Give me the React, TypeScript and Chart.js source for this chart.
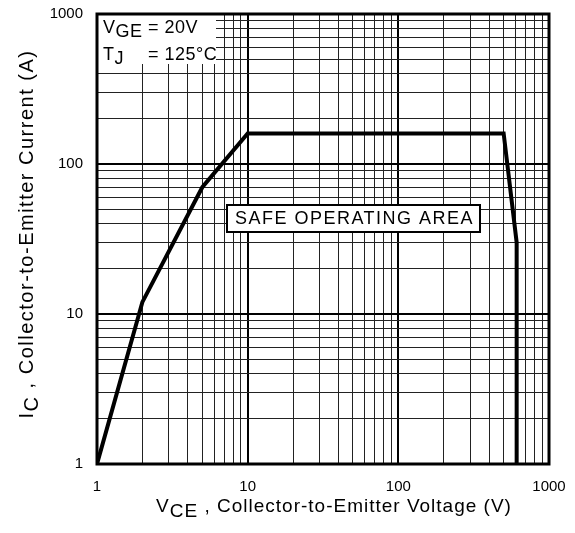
import React, { useEffect, useRef } from "react";
import { Chart, registerables } from "chart.js";

Chart.register(...registerables);

// Safe operating area boundary (V_CE in volts, I_C in amps)
const vce = [1, 2, 5, 10, 500, 610, 610];
const ic = [1, 12, 70, 160, 160, 30, 1];

// Log grid ticks (major decades + minor lines)
const xTicks = [1, 2, 3, 4, 5, 6, 7, 8, 9, 10, 20, 30, 40, 50, 60, 70, 80, 90, 100, 200, 300, 400, 500, 600, 700, 800, 900, 1000];
const yTicks = [1, 2, 3, 4, 5, 6, 7, 8, 9, 10, 20, 30, 40, 50, 60, 70, 80, 90, 100, 200, 300, 400, 500, 600, 700, 800, 900, 1000];
const decadeLabels = [1, 10, 100, 1000];

const FONT = "'Liberation Sans', Arial, Helvetica, sans-serif";

type Part = { t: string; sub?: boolean };

function partsWidth(ctx: CanvasRenderingContext2D, parts: Part[], font: string) {
  ctx.font = font;
  let w = 0;
  for (const p of parts) w += ctx.measureText(p.t).width;
  return w;
}

function drawParts(ctx: CanvasRenderingContext2D, parts: Part[], x: number, y: number, font: string, drop: number) {
  ctx.font = font;
  let cx = x;
  for (const p of parts) {
    ctx.fillText(p.t, cx, y + (p.sub ? drop : 0));
    cx += ctx.measureText(p.t).width;
  }
  return cx;
}

const annotations = {
  id: "annotations",
  afterDatasetsDraw(chart: any) {
    const ctx: CanvasRenderingContext2D = chart.ctx;
    const area = chart.chartArea;
    ctx.save();
    ctx.fillStyle = "#000";
    ctx.textAlign = "left";
    ctx.textBaseline = "alphabetic";
    (ctx as any).letterSpacing = "0.5px";

    // Condition box (top-left)
    ctx.fillStyle = "#fff";
    ctx.fillRect(area.left, area.top, 119, 50);
    ctx.fillStyle = "#000";
    const f1 = `18px ${FONT}`;
    const eqX = drawParts(ctx, [{ t: "V" }, { t: "GE", sub: true }, { t: " " }], area.left + 6, 33, f1, 4);
    drawParts(ctx, [{ t: "= 20V" }], eqX, 33, f1, 4);
    drawParts(ctx, [{ t: "T" }, { t: "J", sub: true }], area.left + 6, 60, f1, 4);
    drawParts(ctx, [{ t: "= 125°C" }], eqX, 60, f1, 4);

    // Safe operating area label box
    const bx = 227, by = 205, bw = 253, bh = 27;
    ctx.fillStyle = "#fff";
    ctx.fillRect(bx, by, bw, bh);
    ctx.lineWidth = 2;
    ctx.strokeStyle = "#000";
    ctx.strokeRect(bx, by, bw, bh);
    ctx.fillStyle = "#000";
    (ctx as any).letterSpacing = "1.5px";
    ctx.font = `18px ${FONT}`;
    ctx.textAlign = "center";
    ctx.textBaseline = "middle";
    ctx.fillText("SAFE OPERATING AREA", bx + bw / 2 + 1, by + bh / 2 + 1);

    // Plot frame
    ctx.lineWidth = 3;
    ctx.strokeRect(area.left, area.top, area.right - area.left, area.bottom - area.top);

    // Axis titles
    ctx.textAlign = "left";
    ctx.textBaseline = "alphabetic";
    (ctx as any).letterSpacing = "1px";
    const tf = `19px ${FONT}`;
    const xParts: Part[] = [{ t: "V" }, { t: "CE", sub: true }, { t: " , Collector-to-Emitter Voltage (V)" }];
    const xw = partsWidth(ctx, xParts, tf);
    drawParts(ctx, xParts, 334 - xw / 2, 512, tf, 5);

    (ctx as any).letterSpacing = "1.5px";
    const yf = `20px ${FONT}`;
    const yParts: Part[] = [{ t: "I" }, { t: "C", sub: true }, { t: " , Collector-to-Emitter Current (A)" }];
    const yw = partsWidth(ctx, yParts, yf);
    ctx.translate(33, 234);
    ctx.rotate(-Math.PI / 2);
    drawParts(ctx, yParts, -yw / 2, 0, yf, 5);
    ctx.restore();
  },
};

const isDecade = (v: number) => decadeLabels.includes(v);

export default function App() {
  const ref = useRef<HTMLCanvasElement | null>(null);
  useEffect(() => {
    if (!ref.current) return;
    const gridCommon = {
      drawTicks: false,
      color: (c: any) => (c.tick && isDecade(c.tick.value) ? "#000" : "#222"),
      lineWidth: (c: any) => (c.tick && isDecade(c.tick.value) ? 2 : 1),
    };
    const tickFont = { family: FONT, size: 15 };
    const chart = new Chart(ref.current, {
      type: "scatter",
      data: {
        datasets: [
          {
            data: vce.map((x, i) => ({ x, y: ic[i] })),
            showLine: true,
            borderColor: "#000",
            backgroundColor: "#000",
            borderWidth: 4,
            pointRadius: 0,
            tension: 0,
            fill: false,
          },
        ],
      },
      options: {
        animation: false,
        responsive: false,
        devicePixelRatio: 1,
        layout: { padding: { left: 0, right: 26, top: 14, bottom: 0 } },
        plugins: { legend: { display: false }, tooltip: { enabled: false } },
        scales: {
          x: {
            type: "logarithmic",
            min: 1,
            max: 1000,
            afterBuildTicks: (s: any) => {
              s.ticks = xTicks.map((v) => ({ value: v }));
            },
            afterFit: (s: any) => {
              s.height = 69;
              s.paddingLeft = 0;
              s.paddingRight = 0;
            },
            ticks: {
              autoSkip: false,
              maxRotation: 0,
              padding: 14,
              color: "#000",
              font: tickFont,
              callback: (v: any) => (isDecade(Number(v)) ? String(v) : ""),
            },
            grid: gridCommon,
            border: { display: false },
          },
          y: {
            type: "logarithmic",
            min: 1,
            max: 1000,
            afterBuildTicks: (s: any) => {
              s.ticks = yTicks.map((v) => ({ value: v }));
            },
            afterFit: (s: any) => {
              s.width = 97;
              s.paddingTop = 0;
              s.paddingBottom = 0;
            },
            ticks: {
              autoSkip: false,
              padding: 14,
              color: "#000",
              font: tickFont,
              callback: (v: any) => (isDecade(Number(v)) ? String(v) : ""),
            },
            grid: gridCommon,
            border: { display: false },
          },
        },
      },
      plugins: [annotations],
    });
    return () => chart.destroy();
  }, []);
  return (
    <div style={{ position: "absolute", left: 0, top: 0, width: 575, height: 533, background: "#fff" }}>
      <canvas ref={ref} width={575} height={533} />
    </div>
  );
}
